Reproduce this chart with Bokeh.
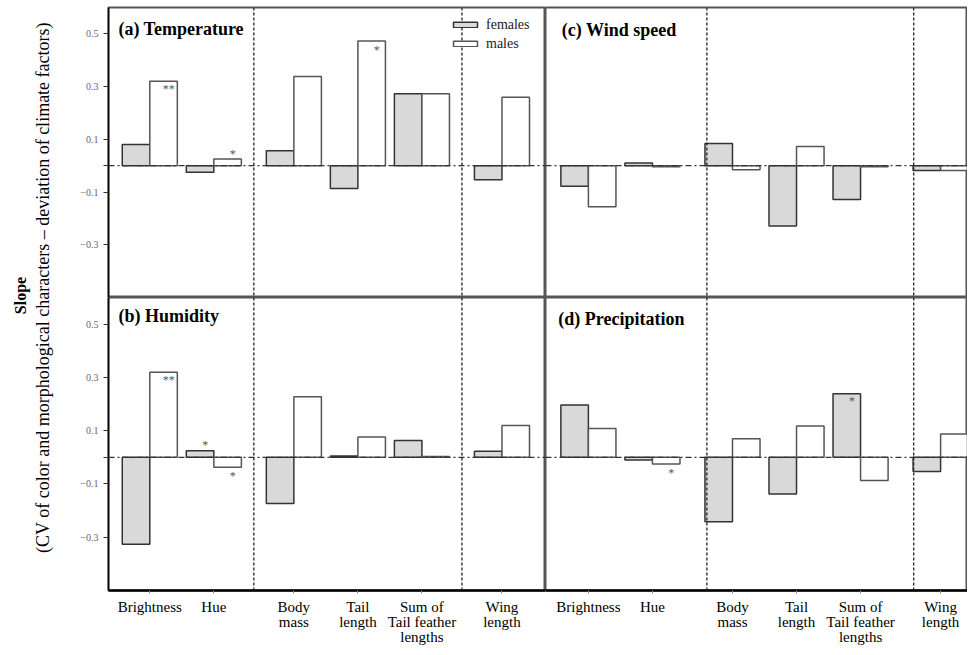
import math
from bokeh.plotting import figure
from bokeh.models import Span, FixedTicker, Legend, LegendItem, ColumnDataSource, Range1d
from bokeh.layouts import row, column
from bokeh.core.properties import value
from bokeh.embed import file_html
from bokeh.resources import INLINE

# ---------------- data ----------------
categories = ["Brightness", "Hue", "Body mass", "Tail length",
              "Sum of Tail feather lengths", "Wing length"]
tick_labels = ["Brightness", "Hue", "Body\nmass", "Tail\nlength",
               "Sum of\nTail feather\nlengths", "Wing\nlength"]
cat_pos = [0, 1, 2.25, 3.25, 4.25, 5.5]

temp_f = [0.08, -0.025, 0.057, -0.087, 0.273, -0.053]
temp_m = [0.32, 0.025, 0.338, 0.473, 0.273, 0.26]
hum_f = [-0.326, 0.025, -0.173, 0.005, 0.063, 0.023]
hum_m = [0.319, -0.037, 0.227, 0.076, 0.003, 0.119]
wind_f = [-0.078, 0.01, 0.084, -0.229, -0.128, -0.018]
wind_m = [-0.156, -0.004, -0.015, 0.073, -0.004, -0.018]
prec_f = [0.196, -0.01, -0.242, -0.138, 0.239, -0.053]
prec_m = [0.108, -0.025, 0.07, 0.118, -0.087, 0.088]

# significance marks: (category index, sex, y, text)
temp_marks = [(0, "m", 0.29, "**"), (1, "m", 0.045, "*"), (3, "m", 0.44, "*")]
hum_marks = [(0, "m", 0.29, "**"), (1, "f", 0.045, "*"), (1, "m", -0.07, "*")]
wind_marks = []
prec_marks = [(1, "m", -0.06, "*"), (4, "f", 0.21, "*")]

y_ticks = [-0.3, -0.1, 0, 0.1, 0.3, 0.5]

SERIF = "Liberation Serif"
BW = 0.43


def make_panel(fvals, mvals, xr, seps, title, tpos, marks, left, top, legend=False):
    p = figure(frame_width=437 if left else 422,
               frame_height=290 if top else 293,
               x_range=Range1d(*xr), y_range=Range1d(-0.5, 0.6),
               output_backend="svg", toolbar_location=None,
               x_axis_location=None if top else "below",
               y_axis_location="left" if left else None,
               min_border_left=40 if left else 0, min_border_right=0,
               min_border_top=7 if top else 0, min_border_bottom=0,
               background_fill_color="white", border_fill_color="white")
    p.grid.grid_line_color = None
    p.outline_line_color = "#555555"
    p.outline_line_width = 2

    src = ColumnDataSource(dict(
        xf=[c - BW / 2 for c in cat_pos],
        xm=[c + BW / 2 for c in cat_pos],
        f=fvals, m=mvals))
    rf = p.vbar(x="xf", top="f", bottom=0, width=BW, source=src,
                fill_color="#d9d9d9", line_color="#333333", line_width=1.5)
    rm = p.vbar(x="xm", top="m", bottom=0, width=BW, source=src,
                fill_color="white", line_color="#555555", line_width=1.5)

    p.add_layout(Span(location=0, dimension="width", line_color="#333333",
                      line_width=1.2, line_dash="6 3 2 3"))
    for s in seps:
        p.add_layout(Span(location=s, dimension="height", line_color="#222222",
                          line_width=1.3, line_dash="3 2"))

    p.text(x=[tpos[0]], y=[tpos[1]], text=[title], text_font=value(SERIF),
           text_font_style="bold", text_font_size="18px",
           text_baseline="middle", text_align="left", text_color="black")

    if marks:
        mx = [cat_pos[i] + (BW / 2 if s == "m" else -BW / 2) + 0.08 for i, s, y, t in marks]
        my = [y for i, s, y, t in marks]
        mt = [t for i, s, y, t in marks]
        p.text(x=mx, y=my, text=mt, text_font=value(SERIF), text_font_size="12px",
               text_baseline="middle", text_align="center", text_color="#555555")

    if left:
        ax = p.yaxis[0]
        ax.ticker = FixedTicker(ticks=y_ticks)
        ax.major_label_overrides = {0: ""}
        ax.axis_line_color = "black"
        ax.axis_line_width = 1.5
        ax.major_tick_out = 5
        ax.major_tick_in = 0
        ax.major_tick_line_color = "#333333"
        ax.minor_tick_line_color = None
        ax.major_label_text_font = SERIF
        ax.major_label_text_font_size = "10px"
        ax.major_label_text_color = "#666666"
        ax.major_label_standoff = 5
    if not top:
        ax = p.xaxis[0]
        ax.ticker = FixedTicker(ticks=cat_pos)
        ax.major_label_overrides = {c: l for c, l in zip(cat_pos, tick_labels)}
        ax.axis_line_color = "black"
        ax.axis_line_width = 2.5
        ax.major_tick_out = 3
        ax.major_tick_in = 0
        ax.major_tick_line_color = "#888888"
        ax.minor_tick_line_color = None
        ax.major_label_text_font = SERIF
        ax.major_label_text_font_size = "15px"
        ax.major_label_text_line_height = 0.95
        ax.major_label_text_color = "black"
        ax.major_label_standoff = 5

    if legend:
        lg = Legend(items=[LegendItem(label="females", renderers=[rf]),
                           LegendItem(label="males", renderers=[rm])],
                    location=(342, 245), orientation="vertical",
                    glyph_width=30, glyph_height=7, label_height=17,
                    spacing=2, padding=0, margin=0, label_standoff=6,
                    border_line_alpha=0, background_fill_alpha=0,
                    label_text_font=SERIF, label_text_font_size="14px",
                    label_text_color="#222222")
        p.add_layout(lg)
    return p


XL = (-0.645, 6.18)
XR = (-0.67, 5.92)
SEP_L = [1.625, 4.875]
SEP_R = [1.85, 5.08]

p_a = make_panel(temp_f, temp_m, XL, SEP_L, "(a) Temperature", (-0.49, 0.52),
                 temp_marks, left=True, top=True, legend=True)
p_c = make_panel(wind_f, wind_m, XR, SEP_R, "(c) Wind speed", (-0.415, 0.513),
                 wind_marks, left=False, top=True)
p_b = make_panel(hum_f, hum_m, XL, SEP_L, "(b) Humidity", (-0.49, 0.53),
                 hum_marks, left=True, top=False)
p_d = make_panel(prec_f, prec_m, XR, SEP_R, "(d) Precipitation", (-0.47, 0.52),
                 prec_marks, left=False, top=False)

LH = 646
lab = figure(frame_width=68, frame_height=LH, x_range=Range1d(0, 68),
             y_range=Range1d(0, LH), output_backend="svg", toolbar_location=None,
             x_axis_location=None, y_axis_location=None,
             min_border_left=0, min_border_right=0, min_border_top=0,
             min_border_bottom=0, outline_line_color=None)
lab.grid.grid_line_color = None
lab.text(x=[20], y=[LH - 295], text=["Slope"], angle=math.pi / 2,
         text_font=value(SERIF), text_font_style="bold", text_font_size="16px",
         text_align="center", text_baseline="middle", text_color="black")
lab.text(x=[42], y=[LH - 287],
         text=["(CV of color and morphological characters \u2013 deviation of climate factors)"],
         angle=math.pi / 2, text_font=value(SERIF), text_font_size="18px",
         text_align="center", text_baseline="middle", text_color="black")

layout = row(lab, column(row(p_a, p_c), row(p_b, p_d)))

open("out.html", "w").write(file_html(layout, INLINE))
